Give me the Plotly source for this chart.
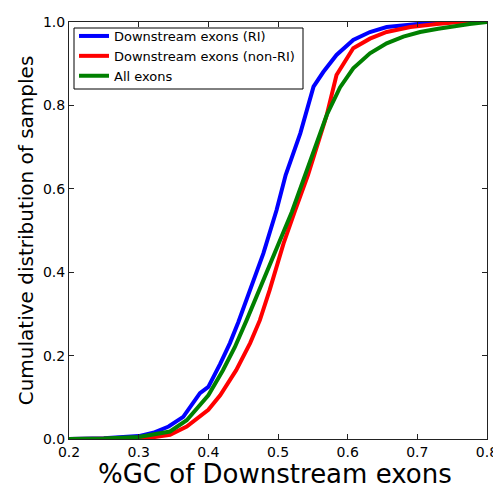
import plotly.graph_objects as go

ri_x = [0.2, 0.25, 0.3, 0.321, 0.343, 0.364, 0.388, 0.4, 0.417, 0.431, 0.443, 0.46, 0.479, 0.498,
        0.511, 0.532, 0.551, 0.565, 0.584, 0.608, 0.632, 0.656, 0.7, 0.73, 0.8]
ri_y = [0.0, 0.002, 0.007, 0.015, 0.03, 0.053, 0.11, 0.125, 0.18, 0.23, 0.28, 0.36, 0.445, 0.549,
        0.633, 0.733, 0.845, 0.88, 0.921, 0.957, 0.976, 0.988, 0.995, 1.0, 1.0]

nonri_x = [0.2, 0.3, 0.32, 0.345, 0.369, 0.4, 0.417, 0.44, 0.46, 0.474, 0.488, 0.508, 0.525, 0.543,
           0.57, 0.584, 0.608, 0.632, 0.656, 0.69, 0.728, 0.76, 0.8]
nonri_y = [0.0, 0.001, 0.004, 0.01, 0.03, 0.07, 0.105, 0.165, 0.23, 0.285, 0.357, 0.469, 0.55, 0.633,
           0.777, 0.873, 0.937, 0.96, 0.976, 0.988, 0.995, 1.0, 1.0]

all_x = [0.2, 0.25, 0.3, 0.345, 0.369, 0.4, 0.421, 0.438, 0.455, 0.475, 0.498, 0.52, 0.539, 0.555,
         0.57, 0.589, 0.608, 0.632, 0.656, 0.68, 0.704, 0.73, 0.752, 0.775, 0.8]
all_y = [0.0, 0.001, 0.005, 0.018, 0.045, 0.105, 0.165, 0.22, 0.285, 0.365, 0.453, 0.545, 0.633, 0.71,
         0.777, 0.843, 0.889, 0.925, 0.949, 0.965, 0.976, 0.984, 0.99, 0.995, 1.0]

x_ticks = [0.2, 0.3, 0.4, 0.5, 0.6, 0.7, 0.8]
y_ticks = [0.0, 0.2, 0.4, 0.6, 0.8, 1.0]
x_title = "%GC of Downstream exons"
y_title = "Cumulative distribution of samples"

series = [
    ("Downstream exons (RI)", ri_x, ri_y, "#0000ff"),
    ("Downstream exons (non-RI)", nonri_x, nonri_y, "#ff0000"),
    ("All exons", all_x, all_y, "#008000"),
]

fig = go.Figure()
for name, xs, ys, c in series:
    fig.add_trace(go.Scatter(x=xs, y=ys, mode="lines", name=name,
                             line=dict(color=c, width=4)))

W, H = 493, 485
L, R, T, B = 69, 6, 22, 46
pw, ph = W - L - R, H - T - B

def px(xp):
    return (xp - L) / pw

def py(yp):
    return 1 - (yp - T) / ph

font = "DejaVu Sans"
fig.update_layout(
    width=W, height=H,
    margin=dict(l=L, r=R, t=T, b=B),
    paper_bgcolor="white", plot_bgcolor="white",
    font=dict(family=font, color="black", size=14),
    showlegend=True,
    legend=dict(x=px(74), y=py(21), xanchor="left", yanchor="top",
                borderwidth=0, bgcolor="rgba(0,0,0,0)",
                font=dict(family=font, size=13), tracegroupgap=0),
    shapes=[dict(type="rect", xref="paper", yref="paper",
                 x0=px(74), x1=px(303), y0=py(89), y1=py(28),
                 line=dict(color="black", width=1), fillcolor="white", layer="below")],
    annotations=[dict(text=x_title, xref="paper", yref="paper",
                      x=px(275), y=py(474), xanchor="center", yanchor="middle",
                      showarrow=False, font=dict(family=font, size=26, color="black"))],
    xaxis=dict(range=[0.2, 0.80001], tickvals=x_ticks,
               ticktext=[f"{v:.1f}" for v in x_ticks],
               ticks="inside", ticklen=5, tickcolor="#222", showline=True, linecolor="#222",
               mirror="ticks", showgrid=False, zeroline=False, automargin=False,
               ticklabeloverflow="allow",
               tickfont=dict(size=14)),
    yaxis=dict(range=[0, 1.00001], tickvals=y_ticks,
               ticktext=[f"{v:.1f}" for v in y_ticks],
               ticks="inside", ticklen=5, tickcolor="#222", showline=True, linecolor="#222",
               mirror="ticks", showgrid=False, zeroline=False, automargin=False,
               ticklabeloverflow="allow",
               tickfont=dict(size=14),
               title=dict(text=y_title, font=dict(size=20), standoff=3)),
)

fig.write_html("out.html")
